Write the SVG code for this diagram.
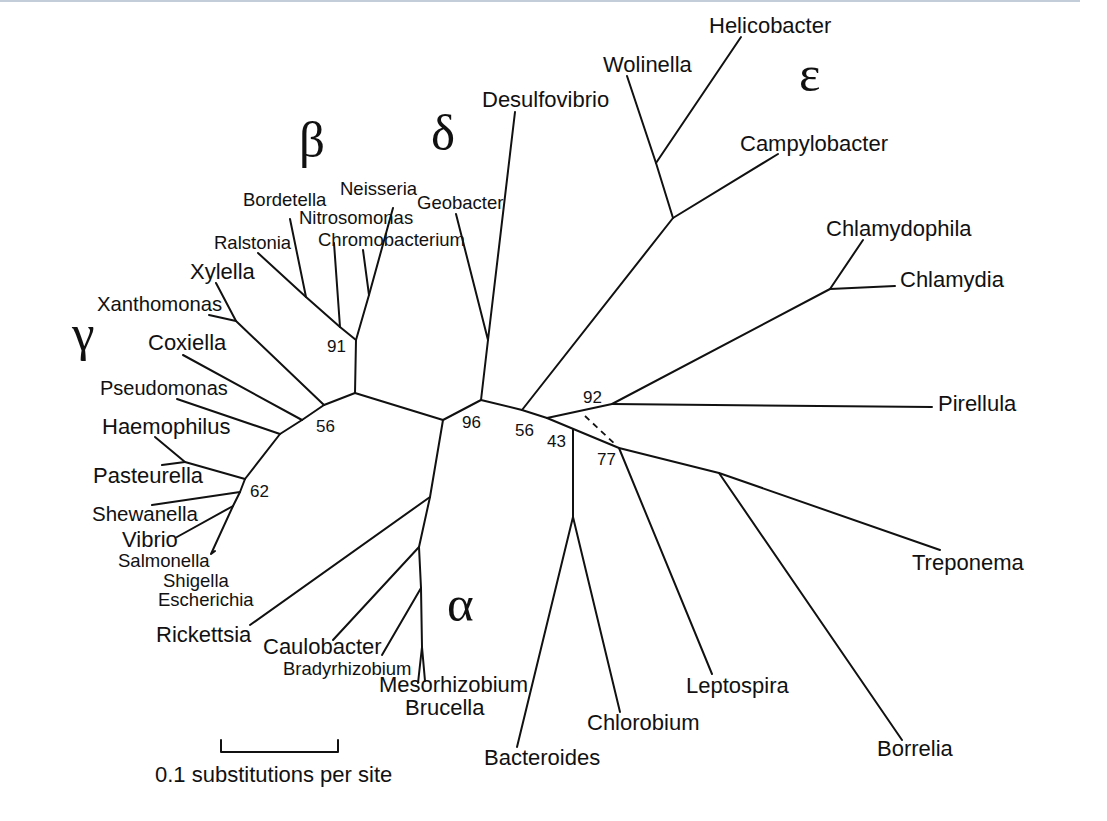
<svg xmlns="http://www.w3.org/2000/svg" width="1107" height="821" viewBox="0 0 1107 821">
<style>
.e{fill:none;stroke:#111;stroke-width:2;stroke-linecap:round;stroke-linejoin:round}
.d{fill:none;stroke:#111;stroke-width:1.8;stroke-dasharray:6,5}
.t{font-family:"Liberation Sans",Arial,sans-serif;font-size:22px;fill:#111}
.s{font-family:"Liberation Sans",Arial,sans-serif;font-size:18.5px;fill:#111}
.b{font-family:"Liberation Sans",Arial,sans-serif;font-size:17px;fill:#111}
.g{font-family:"Liberation Serif","Times New Roman",serif;font-size:51px;fill:#111}
</style>
<rect x="0" y="0" width="1080" height="2" fill="#c3cdd9"/>
<g id="connectors">
<polyline class="e" points="216,283 236,321 324,405"/>
<polyline class="e" points="209,315 236,321"/>
<polyline class="e" points="183,355 302,420"/>
<polyline class="e" points="177,399 280,434"/>
<polyline class="e" points="245,479 280,434 302,420 324,405 355,393"/>
<polyline class="e" points="155,437 185,462 245,479"/>
<polyline class="e" points="162,465 185,462"/>
<polyline class="e" points="245,479 240,492 233,506 211,554 215,551"/>
<polyline class="e" points="152,505 240,492"/>
<polyline class="e" points="177,537 233,506"/>
<polyline class="e" points="258,253 306,297 340,327 356,340"/>
<polyline class="e" points="290,219 306,297"/>
<polyline class="e" points="334,243 340,327"/>
<polyline class="e" points="363,250 369,295"/>
<polyline class="e" points="393,208 369,295 356,340 355,393"/>
<polyline class="e" points="355,393 443,420 481,400"/>
<polyline class="e" points="481,400 488,340"/>
<polyline class="e" points="456,214 488,340 515,112"/>
<polyline class="e" points="481,400 522,410 547,418"/>
<polyline class="e" points="522,410 673,218 778,154"/>
<polyline class="e" points="673,218 656,163 627,76"/>
<polyline class="e" points="656,163 741,37"/>
<polyline class="e" points="547,418 612,404 830,289 863,240"/>
<polyline class="e" points="830,289 895,286"/>
<polyline class="e" points="612,404 932,407"/>
<polyline class="e" points="547,418 619,448 719,473 940,550"/>
<polyline class="e" points="619,448 712,674"/>
<polyline class="e" points="719,473 902,740"/>
<polyline class="e" points="573,429 573,517 517,747"/>
<polyline class="e" points="573,517 620,712"/>
<line class="d" x1="585" y1="416" x2="617" y2="446"/>
<polyline class="e" points="443,420 430,497 419,547 421,588 422,647 418,683"/>
<polyline class="e" points="422,647 425,681"/>
<polyline class="e" points="430,497 250,625"/>
<polyline class="e" points="419,547 333,640"/>
<polyline class="e" points="421,588 382,655"/>
<polyline class="e" points="221,740 221,752 338,752 338,740"/>
</g>
<g id="greek">
<text class="g" x="299" y="157">β</text>
<text class="g" x="431" y="150">δ</text>
<text class="g" x="799" y="91">ε</text>
<text class="g" x="447" y="621">α</text>
<text class="g" x="72" y="350">γ</text>
</g>
<g id="bootstrap">
<text class="b" x="327" y="352">91</text>
<text class="b" x="316" y="432">56</text>
<text class="b" x="462" y="428">96</text>
<text class="b" x="515" y="436">56</text>
<text class="b" x="547" y="447">43</text>
<text class="b" x="583" y="403">92</text>
<text class="b" x="597" y="465">77</text>
<text class="b" x="250" y="497">62</text>
</g>
<g id="n-helicobacter"><text class="t" x="709" y="33">Helicobacter</text></g>
<g id="n-wolinella"><text class="t" x="603" y="72">Wolinella</text></g>
<g id="n-desulfovibrio"><text class="t" x="482" y="107">Desulfovibrio</text></g>
<g id="n-campylobacter"><text class="t" x="740" y="151">Campylobacter</text></g>
<g id="n-chlamydophila"><text class="t" x="826" y="236">Chlamydophila</text></g>
<g id="n-chlamydia"><text class="t" x="900" y="287">Chlamydia</text></g>
<g id="n-pirellula"><text class="t" x="938" y="411">Pirellula</text></g>
<g id="n-treponema"><text class="t" x="912" y="570">Treponema</text></g>
<g id="n-borrelia"><text class="t" x="877" y="756">Borrelia</text></g>
<g id="n-leptospira"><text class="t" x="686" y="693">Leptospira</text></g>
<g id="n-chlorobium"><text class="t" x="587" y="730">Chlorobium</text></g>
<g id="n-bacteroides"><text class="t" x="484" y="765">Bacteroides</text></g>
<g id="n-brucella"><text class="t" x="405" y="715">Brucella</text></g>
<g id="n-mesorhizobium"><text class="t" x="379" y="692">Mesorhizobium</text></g>
<g id="n-bradyrhizobium"><text class="s" x="283" y="675">Bradyrhizobium</text></g>
<g id="n-caulobacter"><text class="t" x="263" y="654">Caulobacter</text></g>
<g id="n-rickettsia"><text class="t" x="156" y="642">Rickettsia</text></g>
<g id="n-escherichia"><text class="s" x="158" y="606">Escherichia</text></g>
<g id="n-shigella"><text class="s" x="163" y="587">Shigella</text></g>
<g id="n-salmonella"><text class="s" x="118" y="567">Salmonella</text></g>
<g id="n-vibrio"><text class="t" x="122" y="547">Vibrio</text></g>
<g id="n-shewanella"><text class="t" x="92" y="521" style="font-size:20.5px">Shewanella</text></g>
<g id="n-pasteurella"><text class="t" x="93" y="483">Pasteurella</text></g>
<g id="n-haemophilus"><text class="t" x="102" y="434">Haemophilus</text></g>
<g id="n-pseudomonas"><text class="t" x="100" y="395" style="font-size:20px">Pseudomonas</text></g>
<g id="n-coxiella"><text class="t" x="148" y="350">Coxiella</text></g>
<g id="n-xanthomonas"><text class="t" x="97" y="311" style="font-size:20.3px">Xanthomonas</text></g>
<g id="n-xylella"><text class="t" x="190" y="279">Xylella</text></g>
<g id="n-ralstonia"><text class="s" x="214" y="249">Ralstonia</text></g>
<g id="n-bordetella"><text class="s" x="243" y="206">Bordetella</text></g>
<g id="n-nitrosomonas"><text class="s" x="299" y="224">Nitrosomonas</text></g>
<g id="n-chromobacterium"><text class="s" x="318" y="246">Chromobacterium</text></g>
<g id="n-neisseria"><text class="s" x="340" y="195">Neisseria</text></g>
<g id="n-geobacter"><text class="s" x="417" y="209">Geobacter</text></g>
<g id="scale"><text class="t" x="155" y="782">0.1 substitutions per site</text></g>
</svg>
